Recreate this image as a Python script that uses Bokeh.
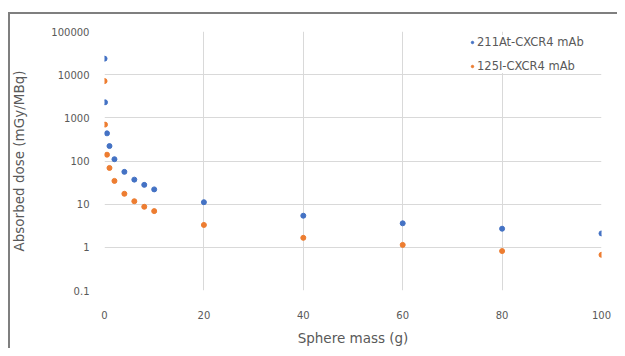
from bokeh.plotting import figure
from bokeh.models import ColumnDataSource, FixedTicker, Legend, LegendItem
from bokeh.embed import file_html
from bokeh.resources import INLINE

# Data
mass_g = [0.01, 0.1, 0.5, 1, 2, 4, 6, 8, 10, 20, 40, 60, 80, 100]
at211_dose = [23500, 2290, 437, 222, 110, 56, 37, 28, 22, 11.1, 5.4, 3.6, 2.7, 2.1]
i125_dose = [7100, 697, 140, 69, 34.6, 17.4, 11.7, 8.7, 6.9, 3.3, 1.66, 1.14, 0.82, 0.67]
series_names = ["211At-CXCR4 mAb", "125I-CXCR4 mAb"]
x_ticks = [0, 20, 40, 60, 80, 100]
y_ticks = [0.1, 1, 10, 100, 1000, 10000, 100000]
y_tick_labels = ["0.1", "1", "10", "100", "1000", "10000", "100000"]

FONT = "DejaVu Sans"
GRID = "#d9d9d9"
TXT = "#595959"

p = figure(width=617, height=348, y_axis_type="log",
           x_range=(0, 100), y_range=(0.1, 100000),
           output_backend="svg", toolbar_location=None,
           min_border_left=104, min_border_right=16,
           min_border_top=31, min_border_bottom=50)
# outer chart frame (left and top edges visible in the reference) via CSS background
p.styles = {
    "background-color": "white",
    "background-image": "linear-gradient(#7f7f7f,#7f7f7f), linear-gradient(#7f7f7f,#7f7f7f)",
    "background-size": "2px 100%, 100% 2px",
    "background-position": "8px 12px, 8px 12px",
    "background-repeat": "no-repeat",
}
p.background_fill_color = "white"
p.border_fill_color = None
p.outline_line_color = None

src = ColumnDataSource(dict(x=mass_g, a=at211_dose, b=i125_dose))
r1 = p.scatter("x", "a", source=src, size=5, color="#4472C4", marker="circle")
r2 = p.scatter("x", "b", source=src, size=5, color="#ED7D31", marker="circle")

p.xaxis.ticker = FixedTicker(ticks=x_ticks)
p.yaxis.ticker = FixedTicker(ticks=y_ticks)
p.yaxis.major_label_overrides = {t: l for t, l in zip(y_ticks, y_tick_labels)}
p.xaxis.major_label_overrides = {t: str(t) for t in x_ticks}

for ax in (p.xaxis, p.yaxis):
    ax.axis_line_color = None
    ax.major_tick_line_color = None
    ax.minor_tick_line_color = None
    ax.major_label_text_font = FONT
    ax.major_label_text_font_size = "10px"
    ax.major_label_text_color = TXT
    ax.axis_label_text_font = FONT
    ax.axis_label_text_font_size = "13.5px"
    ax.axis_label_text_font_style = "normal"
    ax.axis_label_text_color = TXT

p.xaxis.major_label_standoff = 14
p.yaxis.major_label_standoff = 9
p.xaxis.axis_label = "Sphere mass (g)"
p.yaxis.axis_label = "Absorbed dose (mGy/MBq)"
p.xaxis.axis_label_standoff = 8
p.yaxis.axis_label_standoff = 21

p.xgrid.grid_line_color = GRID
p.ygrid.grid_line_color = GRID
p.ygrid.minor_grid_line_color = None

legend = Legend(items=[LegendItem(label=series_names[0], renderers=[r1]),
                       LegendItem(label=series_names[1], renderers=[r2])],
                location=(365, 217),
                label_text_font=FONT, label_text_font_size="11.5px",
                label_text_color=TXT, glyph_width=6, glyph_height=14,
                label_height=14, label_standoff=2, spacing=10, padding=5,
                border_line_color=None, background_fill_color="white",
                background_fill_alpha=1.0, margin=0)
p.add_layout(legend)

open("out.html", "w").write(file_html(p, INLINE))
